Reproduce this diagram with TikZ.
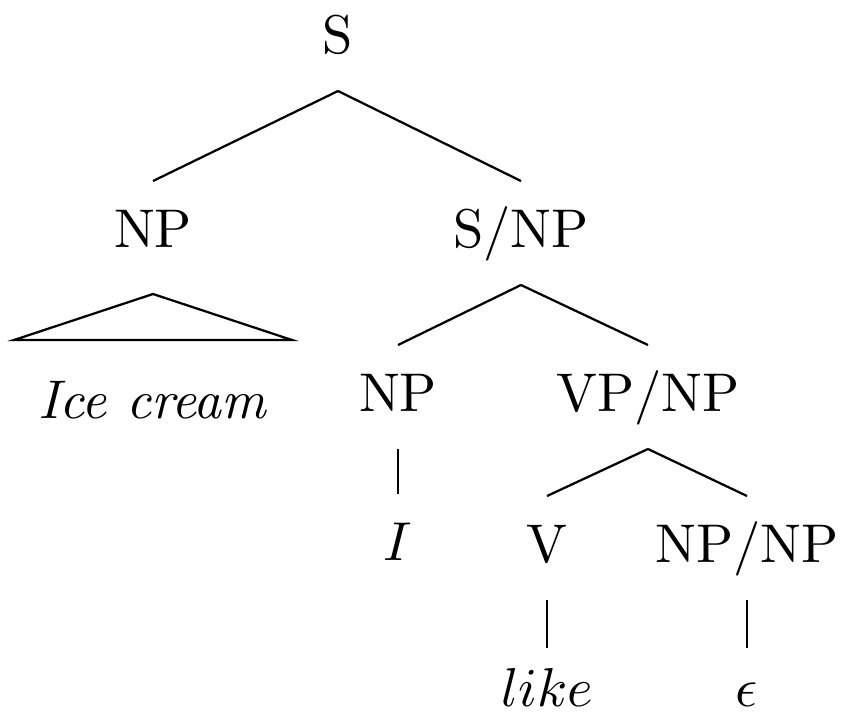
\documentclass[tikz,border=0pt]{standalone}
\usepackage{tikz}
\begin{document}
\begin{tikzpicture}[x=0.2pt,y=-0.2pt,
    every node/.style={font=\fontsize{10.9}{12}\selectfont,anchor=base,
      text height=7pt,text depth=1.4pt,inner xsep=1pt,inner ysep=6pt},
    leafnode/.style={inner ysep=4.4pt},
    branch/.style={line width=0.45pt}]
  \useasboundingbox (0,0) rectangle (843,722);

  % categories
  \node (s) at (338,53) {S};
  \node (np) at (153,247) {NP};
  \node (snp) at (521,247) {S/NP};
  \node (np2) at (398,411) {NP};
  \node (vpnp) at (648,411) {VP/NP};
  \node (v) at (547,562) {V};
  \node (npnp) at (747,562) {NP/NP};

  % words
  \node (ice) at (153,418) {\textit{Ice cream}};
  \node (i) at (398,560) {$I$};
  \node[leafnode] (like) at (547,706) {$like$};
  \node[leafnode] (eps) at (747,706) {$\epsilon$};

  % roof over the unanalysed NP
  \coordinate (triTop) at (153,294);
  \coordinate (triL) at (14,340);
  \coordinate (triR) at (292,340);
  \draw[branch] (triTop) -- (triL) -- (triR) -- cycle;

  % branches
  \draw[branch] (s.south) -- (np.north);
  \draw[branch] (s.south) -- (snp.north);
  \draw[branch] (snp.south) -- (np2.north);
  \draw[branch] (snp.south) -- (vpnp.north);
  \draw[branch] (np2.south) -- (i.north);
  \draw[branch] (vpnp.south) -- (v.north);
  \draw[branch] (vpnp.south) -- (npnp.north);
  \draw[branch] (v.south) -- (like.north);
  \draw[branch] (npnp.south) -- (eps.north);
\end{tikzpicture}
\end{document}
